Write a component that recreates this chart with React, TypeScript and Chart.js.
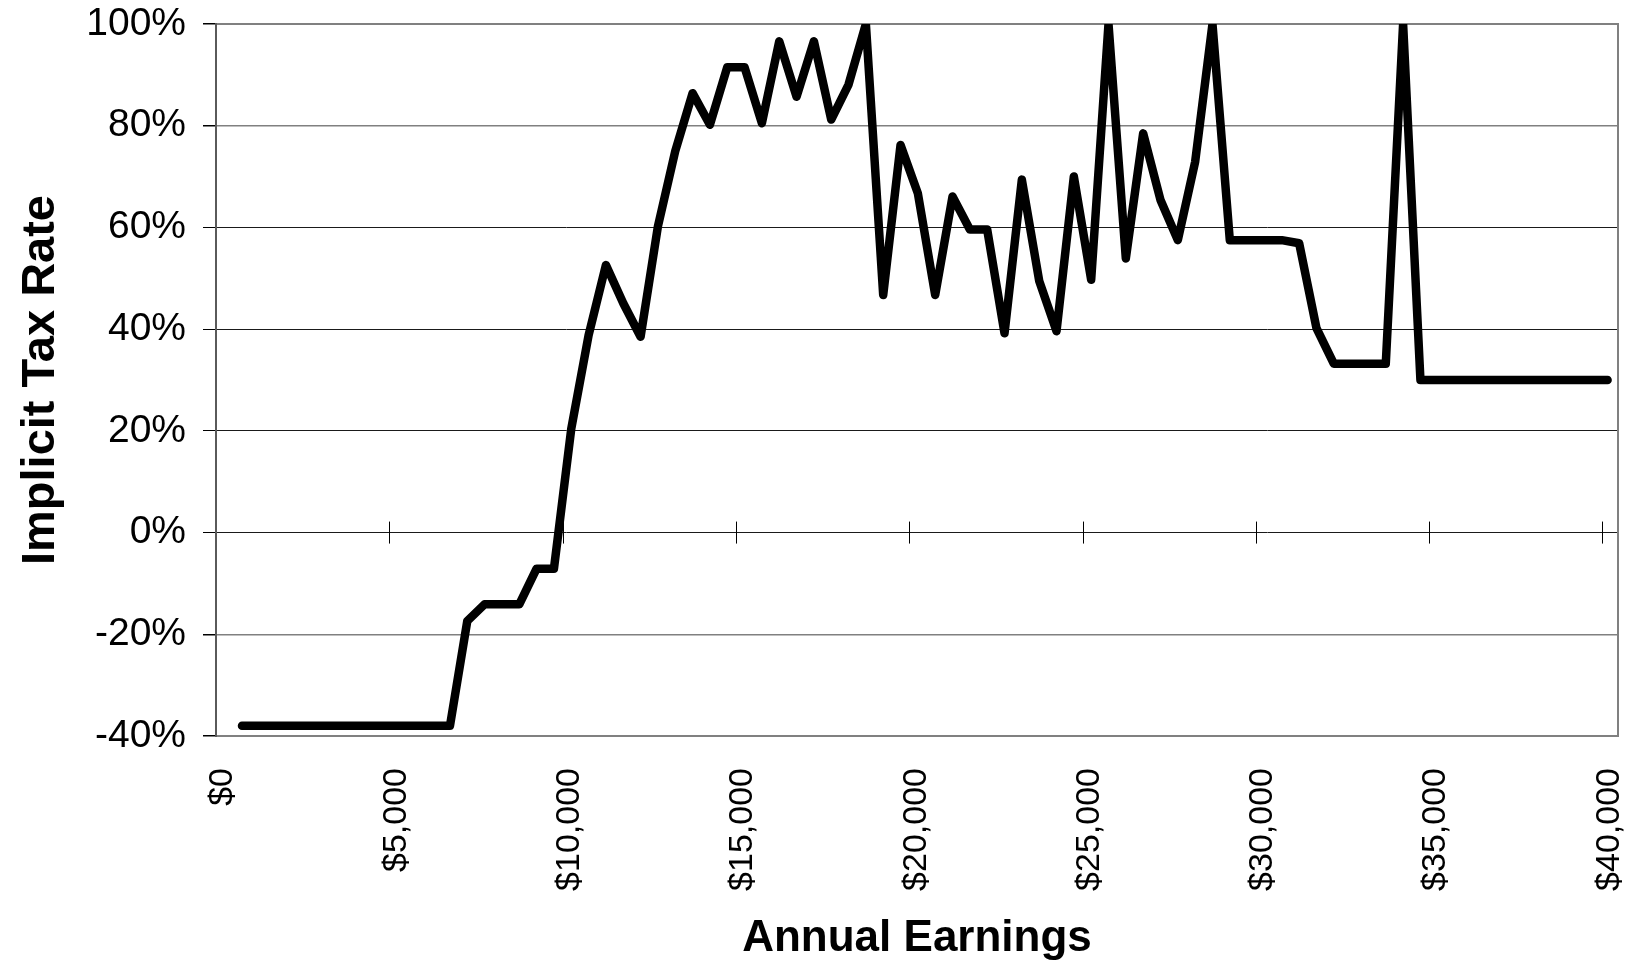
import React, { useEffect, useRef } from 'react';
import { Chart, registerables } from 'chart.js';

Chart.register(...registerables);

// Annual earnings (x, dollars) of each computed point
const earnings: number[] = [
  750, 1250, 1750, 2250, 2750, 3250, 3750, 4250, 4750, 5250, 5750, 6250, 6750,
  7250, 7750, 8250, 8750, 9250, 9750, 10250, 10750, 11250, 11750, 12250, 12750,
  13250, 13750, 14250, 14750, 15250, 15750, 16250, 16750, 17250, 17750, 18250,
  18750, 19250, 19750, 20250, 20750, 21250, 21750, 22250, 22750, 23250, 23750,
  24250, 24750, 25250, 25750, 26250, 26750, 27250, 27750, 28250, 28750, 29250,
  29750, 30250, 30750, 31250, 31750, 32250, 32750, 33250, 33750, 34250, 34750,
  35250, 35750, 36250, 36750, 37250, 37750, 38250, 38750, 39250, 39750, 40150,
];

// Implicit tax rate (%) at each earnings point
const taxRates: number[] = [
  -38, -38, -38, -38, -38, -38, -38, -38, -38, -38, -38, -38, -38,
  -17.4, -14.1, -14.1, -14.1, -7.1, -7.1, 20.4, 38.8, 52.6, 45.1, 38.5, 60.2,
  75, 86.4, 80.2, 91.5, 91.5, 80.5, 96.6, 85.7, 96.6, 81.2, 88.1,
  100, 46.7, 76.2, 66.7, 46.7, 66.1, 59.6, 59.6, 39.2, 69.4, 49.5,
  39.6, 70, 49.7, 100, 53.9, 78.5, 65.4, 57.5, 72.9, 100, 57.5,
  57.5, 57.5, 57.5, 56.9, 40.2, 33.2, 33.2, 33.2, 33.2, 100, 30,
  30, 30, 30, 30, 30, 30, 30, 30, 30, 30, 30,
];

const yTickValues: number[] = [-40, -20, 0, 20, 40, 60, 80, 100];
const xTickValues: number[] = [0, 5000, 10000, 15000, 20000, 25000, 30000, 35000, 40000];

const xTitle = 'Annual Earnings';
const yTitle = 'Implicit Tax Rate';

const FONT = "'Liberation Sans', Arial, Helvetica, sans-serif";

const zeroPadding = (scale: any) => {
  scale.paddingLeft = 0;
  scale.paddingRight = 0;
  scale.paddingTop = 0;
  scale.paddingBottom = 0;
};

const framePlugin = {
  id: 'frameAndZeroTicks',
  beforeDatasetsDraw(chart: any) {
    const { ctx, chartArea: a, scales } = chart;
    const xs = scales.x;
    const ys = scales.y;
    ctx.save();
    // tick marks crossing the 0% line
    const y0 = ys.getPixelForValue(0);
    ctx.strokeStyle = '#000';
    ctx.lineWidth = 1;
    xs.ticks.forEach((t: any) => {
      const px = Math.round(xs.getPixelForValue(t.value)) + 0.5;
      ctx.beginPath();
      ctx.moveTo(px, y0 - 11);
      ctx.lineTo(px, y0 + 11);
      ctx.stroke();
    });
    // plot frame
    ctx.strokeStyle = '#808080';
    ctx.lineWidth = 2;
    ctx.strokeRect(a.left, a.top, a.right - a.left, a.bottom - a.top);
    ctx.strokeStyle = '#5a5a5a';
    ctx.beginPath();
    ctx.moveTo(a.left, a.top - 1);
    ctx.lineTo(a.left, a.bottom + 1);
    ctx.stroke();
    ctx.restore();
  },
};

export default function App() {
  const canvasRef = useRef<HTMLCanvasElement | null>(null);

  useEffect(() => {
    const canvas = canvasRef.current;
    if (!canvas) return;
    const points = earnings.map((x, i) => ({ x, y: taxRates[i] }));
    const chart = new Chart(canvas, {
      type: 'line',
      data: {
        datasets: [
          {
            data: points,
            borderColor: '#000',
            borderWidth: 8.5,
            borderJoinStyle: 'round',
            borderCapStyle: 'round',
            pointRadius: 0,
            pointHoverRadius: 0,
            tension: 0,
            fill: false,
            clip: 0,
          } as any,
        ],
      },
      options: {
        responsive: false,
        animation: false,
        events: [],
        layout: { padding: { top: 24, right: 21, left: 0, bottom: 0 } },
        plugins: {
          legend: { display: false },
          tooltip: { enabled: false },
        },
        scales: {
          x: {
            type: 'linear',
            min: 0,
            max: 40450,
            afterBuildTicks: (scale: any) => {
              scale.ticks = xTickValues.map((v) => ({ value: v }));
            },
            afterFit: (scale: any) => {
              scale.height = 233;
              zeroPadding(scale);
            },
            grid: { display: false, drawTicks: false },
            border: { display: false },
            ticks: {
              autoSkip: false,
              minRotation: 90,
              maxRotation: 90,
              padding: 32,
              labelOffset: 7,
              color: '#000',
              font: { family: FONT, size: 34 },
              callback: (v: any) => '$' + Number(v).toLocaleString('en-US'),
            },
            title: {
              display: true,
              text: xTitle,
              color: '#000',
              font: { family: FONT, size: 44, weight: 'bold' },
              padding: { top: 0, bottom: 4 },
            },
          },
          y: {
            type: 'linear',
            min: -40,
            max: 100,
            afterBuildTicks: (scale: any) => {
              scale.ticks = yTickValues.map((v) => ({ value: v }));
            },
            afterFit: (scale: any) => {
              scale.width = 216;
              zeroPadding(scale);
            },
            grid: {
              display: true,
              drawTicks: true,
              tickLength: 13,
              tickColor: '#000',
              color: (ctx: any) => {
                const v = ctx.tick ? ctx.tick.value : 0;
                return v === 100 || v === 80 || v === -20 || v === -40 ? '#808080' : '#1a1a1a';
              },
              lineWidth: (ctx: any) => {
                const v = ctx.tick ? ctx.tick.value : 0;
                return v === 100 || v === 80 || v === -20 || v === -40 ? 1.5 : 1;
              },
            },
            border: { display: false },
            ticks: {
              padding: 17,
              color: '#000',
              font: { family: FONT, size: 39 },
              callback: (v: any) => v + '%',
            },
            title: {
              display: true,
              text: yTitle,
              color: '#000',
              font: { family: FONT, size: 47, weight: 'bold' },
              padding: { top: 13, bottom: 0 },
            },
          },
        },
      },
      plugins: [framePlugin],
    });
    return () => chart.destroy();
  }, []);

  return (
    <div style={{ position: 'absolute', left: 0, top: 0, width: 1639, height: 969, background: '#fff' }}>
      <canvas ref={canvasRef} width={1639} height={969} style={{ display: 'block' }} />
    </div>
  );
}
